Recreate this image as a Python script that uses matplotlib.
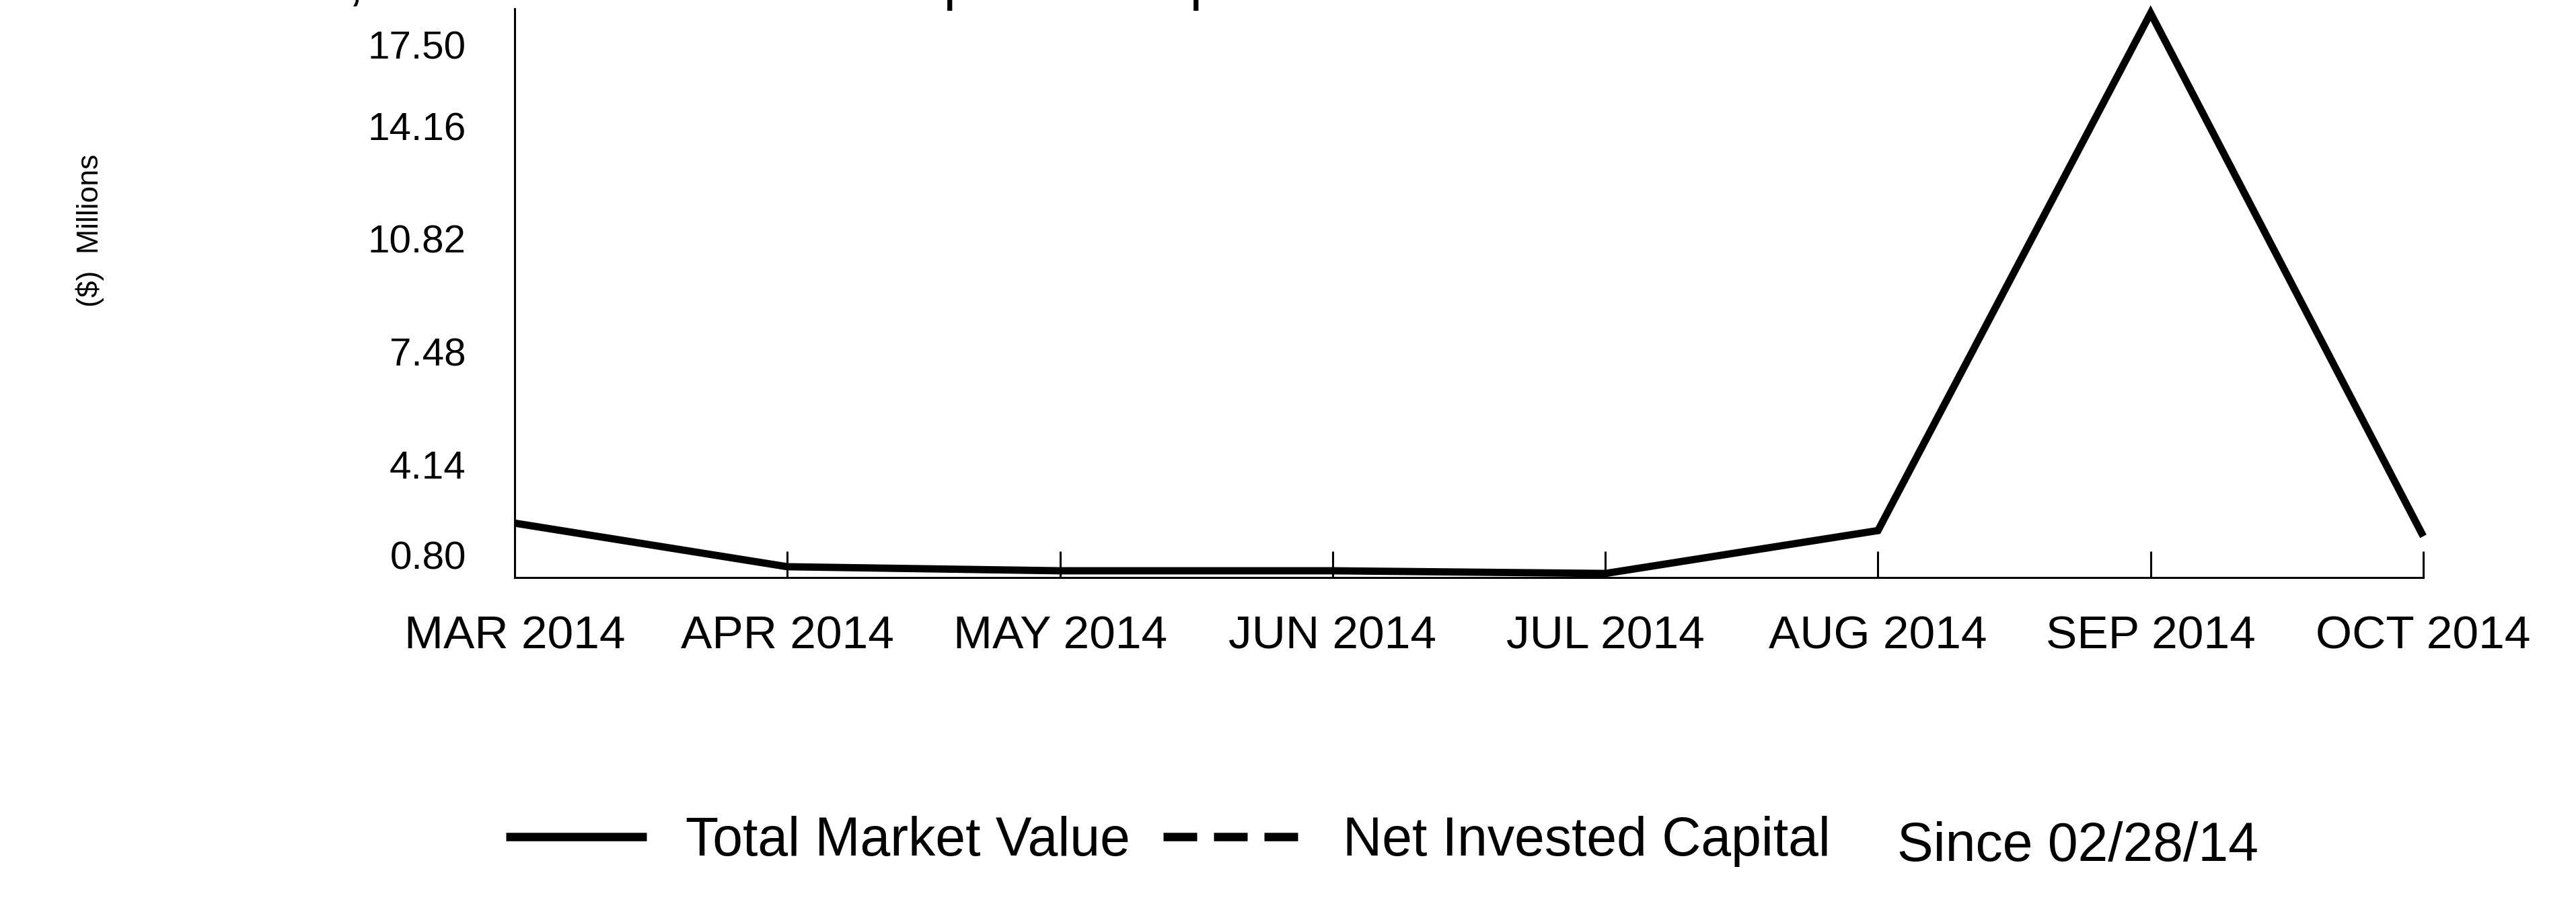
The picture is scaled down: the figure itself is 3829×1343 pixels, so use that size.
import matplotlib.pyplot as plt
from matplotlib.lines import Line2D
from matplotlib.transforms import ScaledTranslation

# data ($ millions)
months = ["MAR 2014", "APR 2014", "MAY 2014", "JUN 2014",
          "JUL 2014", "AUG 2014", "SEP 2014", "OCT 2014"]
total_market_value = [2.41, 1.12, 1.00, 1.00, 0.92, 2.19, 17.50, 2.02]
y_ticks = [0.80, 4.14, 7.48, 10.82, 14.16, 17.50]
y_tick_labels = ["0.80", "4.14", "7.48", "10.82", "14.16", "17.50"]
legend_labels = ["Total Market Value", "Net Invested Capital"]
since_label = "Since 02/28/14"
header = "Total Market Value, which illustrates the impact of deposits and withdrawals."

W, H = 3829, 1343
font = ["Liberation Sans", "DejaVu Sans"]

fig = plt.figure(figsize=(W / 100, H / 100), dpi=100)
ax = fig.add_axes([765 / W, 1 - 858 / H, (3602 - 765) / W, (858 - 13) / H])

x = list(range(len(months)))
ax.plot(x, total_market_value, color="black", lw=7.8, solid_joinstyle="miter",
        solid_capstyle="butt", clip_on=False)

ax.set_xlim(0, len(months) - 1)
ax.set_ylim(0.80, 17.63)

for side in ["top", "right"]:
    ax.spines[side].set_visible(False)
for side in ["left", "bottom"]:
    ax.spines[side].set_linewidth(2.2)

ax.set_xticks(x)
ax.set_xticklabels(months, family=font, fontsize=50)
ax.tick_params(axis="x", direction="in", length=28, width=2.2, pad=40)

ax.set_yticks(y_ticks)
ax.set_yticklabels(y_tick_labels, family=font, fontsize=42)
ax.tick_params(axis="y", length=0, pad=52)
ylabs = ax.get_yticklabels()
ylabs[0].set_va("bottom")
ylabs[-1].set_va("top")
# the top label sits a little below the axis top, as in the source
ylabs[-1].set_transform(ylabs[-1].get_transform()
                        + ScaledTranslation(0, -0.26, fig.dpi_scale_trans))

fig.text(134 / W, 1 - 342 / H, "($)  Millions", rotation=90, ha="center",
         va="center", family=font, fontsize=32)

# header line cut off at the very top of the image: only its bottom shows
fig.text(2631 / W, 1 + 1 / H, header, ha="right", va="baseline",
         family=font, fontsize=60)

handles = [Line2D([], [], color="black", lw=9, solid_capstyle="butt"),
           Line2D([], [], color="black", lw=9, dashes=(4, 2), dash_capstyle="butt")]
fig.legend(handles, legend_labels, loc="center left",
           bbox_to_anchor=(752 / W, 1 - 1250 / H), ncol=2, frameon=False,
           borderpad=0, borderaxespad=0, handlelength=2.6, handletextpad=0.72,
           columnspacing=0.6, prop={"family": font, "size": 58})
fig.text(2820 / W, 1 - 1258 / H, since_label, ha="left", va="center",
         family=font, fontsize=58)

fig.savefig("out.png", dpi=100)
